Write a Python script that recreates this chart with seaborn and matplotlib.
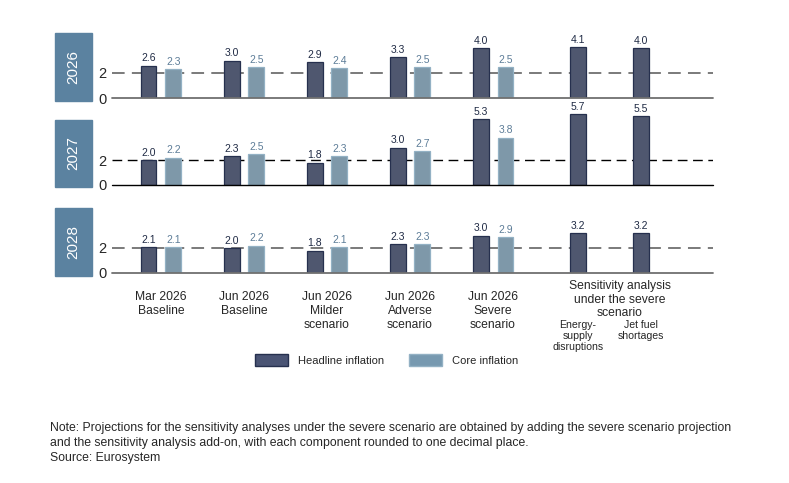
import numpy as np
import pandas as pd
import matplotlib.pyplot as plt
from matplotlib.patches import Patch, Rectangle
import seaborn as sns

sns.set_style("white")
plt.rcParams['font.family'] = ['Liberation Sans', 'DejaVu Sans']

# data
years = ["2026", "2027", "2028"]
scenarios = ["Mar 2026\nBaseline", "Jun 2026\nBaseline", "Jun 2026\nMilder\nscenario",
             "Jun 2026\nAdverse\nscenario", "Jun 2026\nSevere\nscenario"]
sensitivity = ["Energy-\nsupply\ndisruptions", "Jet fuel\nshortages"]
headline = {
    "2026": [2.6, 3.0, 2.9, 3.3, 4.0, 4.1, 4.0],
    "2027": [2.0, 2.3, 1.8, 3.0, 5.3, 5.7, 5.5],
    "2028": [2.1, 2.0, 1.8, 2.3, 3.0, 3.2, 3.2],
}
core = {
    "2026": [2.3, 2.5, 2.4, 2.5, 2.5],
    "2027": [2.2, 2.5, 2.3, 2.7, 3.8],
    "2028": [2.1, 2.2, 2.1, 2.3, 2.9],
}
series = ["Headline inflation", "Core inflation"]

# layout
fill = {"Headline inflation": "#4a5474", "Core inflation": "#7799b0"}
edge = {"Headline inflation": "#26304e", "Core inflation": "#93b1c4"}
label_col = {"Headline inflation": "#1f2a44", "Core inflation": "#5d7d98"}
box_col = "#5b82a0"
h_pos = [i - 0.15 for i in range(len(scenarios))] + [5.02, 5.78]
c_pos = [i + 0.15 for i in range(len(scenarios))]

W, H = 789, 483
fig = plt.figure(figsize=(W / 100, H / 100), dpi=100)

zero_px = [98, 185, 273]
box_px = [(33, 101), (120, 187), (208, 276)]
line_col = ["#707070", "#000000", "#707070"]
line_w = [1.3, 1.0, 1.3]
ax_left, ax_right = 112, 713
unit_px = 12.5
ymax = 6.0

for k, yr in enumerate(years):
    bottom = 1 - zero_px[k] / H
    height = ymax * unit_px / H
    ax = fig.add_axes([ax_left / W, bottom, (ax_right - ax_left) / W, height])

    df = pd.DataFrame({
        "pos": h_pos + c_pos,
        "value": headline[yr] + core[yr],
        "series": [series[0]] * len(h_pos) + [series[1]] * len(c_pos),
    })
    sns.barplot(data=df, x="pos", y="value", hue="series", hue_order=series,
                palette=fill, native_scale=True, dodge=False, width=0.64,
                linewidth=0.9, legend=False, ax=ax)
    for cont, s in zip(ax.containers, series):
        for bar in cont:
            bar.set_edgecolor(edge[s])
        ax.bar_label(cont, fmt="%.1f", fontsize=7.5, color=label_col[s], padding=1.5)

    ax.axhline(2, color=line_col[k], lw=line_w[k], ls=(0, (7, 4)), zorder=0.5)
    ax.axhline(0, color=line_col[k], lw=line_w[k], zorder=3, clip_on=False)
    ax.set_xlim(-0.59, 6.65)
    ax.set_ylim(0, ymax)
    ax.set_yticks([0, 2])
    ax.set_yticklabels(["0", "2"], fontsize=10.5)
    ax.tick_params(axis="y", length=0, pad=4)
    ax.set_xticks([])
    ax.set_xlabel("")
    ax.set_ylabel("")
    ax.patch.set_visible(False)
    for sp in ax.spines.values():
        sp.set_visible(False)

    y0, y1 = box_px[k]
    fig.patches.append(Rectangle((55 / W, 1 - y1 / H), 37 / W, (y1 - y0) / H,
                                 transform=fig.transFigure, color=box_col, zorder=0))
    fig.text(73.5 / W, 1 - (y0 + y1) / 2 / H, yr, rotation=90, color="white",
             fontsize=11, ha="center", va="center")

# category labels under last panel
for i, lab in enumerate(scenarios):
    ax.text(i, -1.45, lab, ha="center", va="top", fontsize=8.7, linespacing=1.2)
ax.text(5.53, -0.6, "Sensitivity analysis\nunder the severe\nscenario", ha="center",
        va="top", fontsize=8.7, linespacing=1.15)
for p, lab in zip(h_pos[5:], sensitivity):
    ax.text(p, -3.75, lab, ha="center", va="top", fontsize=7.6, linespacing=1.15)

handles = [Patch(facecolor=fill[s], edgecolor=edge[s], label=s) for s in series]
fig.legend(handles=handles, loc="center", bbox_to_anchor=(0.49, 1 - 360 / H), ncol=2,
           frameon=False, fontsize=8, handlelength=3.0, handleheight=1.35,
           handletextpad=0.9, columnspacing=2.2)

fig.text(50 / W, 1 - 422 / H,
         "Note: Projections for the sensitivity analyses under the severe scenario are obtained by adding the severe scenario projection\n"
         "and the sensitivity analysis add-on, with each component rounded to one decimal place.\n"
         "Source: Eurosystem", ha="left", va="top", fontsize=8.8, linespacing=1.35)

fig.savefig("out.png", dpi=100)
